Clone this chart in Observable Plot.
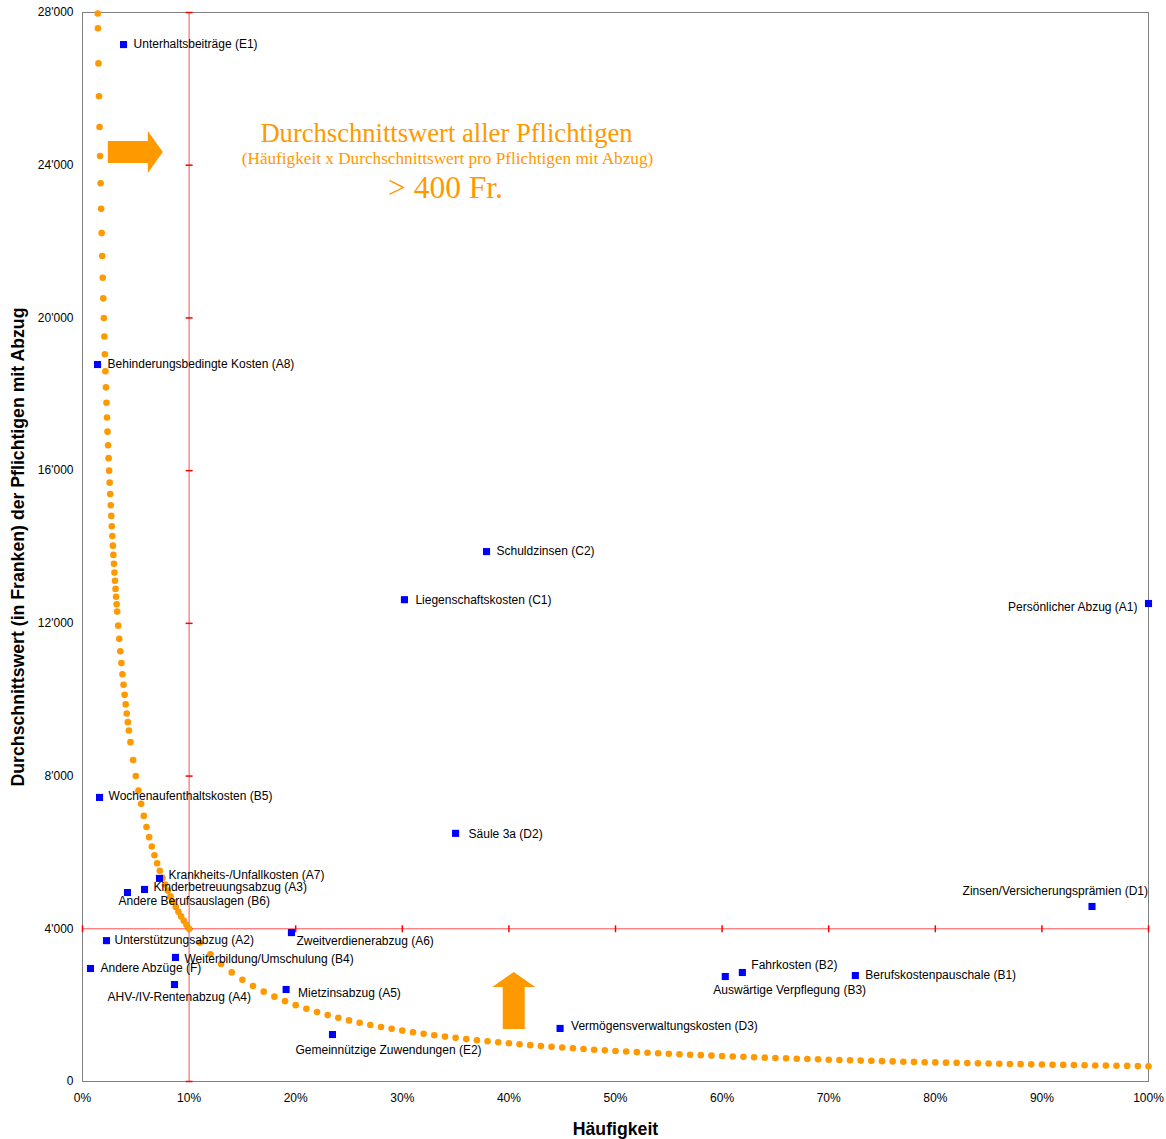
<!DOCTYPE html>
<html><head><meta charset="utf-8">
<script src="https://cdn.jsdelivr.net/npm/d3@7"></script>
<script src="https://cdn.jsdelivr.net/npm/@observablehq/plot@0.6"></script>
<style>body{margin:0;background:#fff} #chart{width:1166px;height:1139px}</style>
</head><body><div id="chart"></div>
<script>
// ---- Data ----
const labels = [
  "Unterhaltsbeiträge (E1)", "Behinderungsbedingte Kosten (A8)", "Wochenaufenthaltskosten (B5)",
  "Krankheits-/Unfallkosten (A7)", "Kinderbetreuungsabzug (A3)", "Andere Berufsauslagen (B6)",
  "Unterstützungsabzug (A2)", "Weiterbildung/Umschulung (B4)", "Andere Abzüge (F)",
  "AHV-/IV-Rentenabzug (A4)", "Zweitverdienerabzug (A6)", "Mietzinsabzug (A5)",
  "Gemeinnützige Zuwendungen (E2)", "Vermögensverwaltungskosten (D3)", "Schuldzinsen (C2)",
  "Liegenschaftskosten (C1)", "Säule 3a (D2)", "Fahrkosten (B2)", "Auswärtige Verpflegung (B3)",
  "Berufskostenpauschale (B1)", "Persönlicher Abzug (A1)", "Zinsen/Versicherungsprämien (D1)"
];
const codes = ["E1","A8","B5","A7","A3","B6","A2","B4","F","A4","A6","A5","E2","D3","C2","C1","D2","B2","B3","B1","A1","D1"];
const haeufigkeit = [3.85, 1.41, 1.6, 7.22, 5.82, 4.22, 2.25, 8.72, 0.75, 8.63, 19.6, 19.1, 23.45, 44.8, 37.9, 30.2, 35.0, 61.9, 60.3, 72.5, 100, 94.7];
const durchschnitt = [27160, 18780, 7440, 5320, 5030, 4950, 3690, 3250, 2960, 2540, 3900, 2410, 1230, 1390, 13880, 12620, 6500, 2855, 2750, 2775, 12520, 4585];

// iso-line: Häufigkeit x Durchschnittswert = 400 Fr.
const curveX = [1.43,1.45,1.50,1.55,1.60,1.65,1.70,1.75,1.80,1.85,1.90,1.95,2.00,2.05,2.10,2.15,2.20,2.25,2.30,2.35,2.40,2.45,2.50,2.55,2.60,2.65,2.70,2.75,2.80,2.85,2.90,2.95,3.00,3.05,3.10,3.15,3.20,3.25,
  3.35,3.45,3.55,3.65,3.75,3.85,3.95,4.05,4.15,4.25,4.35,4.50,4.75,5.00,5.25,5.50,5.75,6.00,6.25,6.50,6.75,7.00,7.25,7.50,7.75,8.00,8.25,8.50,8.75,9.00,9.25,9.50,9.75,10.00,
  11,12,13,14,15,16,17,18,19,20,21,22,23,24,25,26,27,28,29,30,31,32,33,34,35,36,37,38,39,40,41,42,43,44,45,46,47,48,49,50,
  51,52,53,54,55,56,57,58,59,60,61,62,63,64,65,66,67,68,69,70,71,72,73,74,75,76,77,78,79,80,81,82,83,84,85,86,87,88,89,90,91,92,93,94,95,96,97,98,99,100];
const curveY = [27972,27586,26667,25806,25000,24242,23529,22857,22222,21622,21053,20513,20000,19512,19048,18605,18182,17778,17391,17021,16667,16327,16000,15686,15385,15094,14815,14545,14286,14035,13793,13559,13333,13115,12903,12698,12500,12308,
  11940,11594,11268,10959,10667,10390,10127,9877,9639,9412,9195,8889,8421,8000,7619,7273,6957,6667,6400,6154,5926,5714,5517,5333,5161,5000,4848,4706,4571,4444,4324,4211,4103,4000,
  3636,3333,3077,2857,2667,2500,2353,2222,2105,2000,1905,1818,1739,1667,1600,1538,1481,1429,1379,1333,1290,1250,1212,1176,1143,1111,1081,1053,1026,1000,976,952,930,909,889,870,851,833,816,800,
  784,769,755,741,727,714,702,690,678,667,656,645,635,625,615,606,597,588,580,571,563,556,548,541,533,526,519,513,506,500,494,488,482,476,471,465,460,455,449,444,440,435,430,426,421,417,412,408,404,400];

const xTicks = [0,10,20,30,40,50,60,70,80,90,100];
const yTicks = [0,4000,8000,12000,16000,20000,24000,28000];
const xTitle = "Häufigkeit";
const yTitle = "Durchschnittswert (in Franken) der Pflichtigen mit Abzug";
const noteLines = ["Durchschnittswert aller Pflichtigen", "(Häufigkeit x Durchschnittswert pro Pflichtigen mit Abzug)", "> 400 Fr."];
const thresholdX = 10, thresholdY = 4000;

// ---- Label placement (pixel offsets from marker) ----
const placement = {
  E1:[10,0,"start"], A8:[10,0,"start"], B5:[9,-1,"start"], A7:[9,-3,"start"], A3:[9,-2,"start"],
  B6:[-9,9,"start"], A2:[8,0,"start"], B4:[9,2,"start"], F:[10,0,"start"], A4:[-67,13,"start"],
  A6:[5,9,"start"], A5:[12,4,"start"], E2:[-37,16,"start"], D3:[11,-2,"start"], C2:[10,0,"start"],
  C1:[11,0,"start"], D2:[13,1,"start"], B2:[9,-7,"start"], B3:[-12,14,"start"], B1:[10,0,"start"],
  A1:[-11,4,"end"], D1:[56,-15,"end"]
};

const points = labels.map((l, i) => ({label: l, code: codes[i], x: haeufigkeit[i], y: durchschnitt[i]}));
const curve = curveX.map((x, i) => ({x, y: curveY[i]}));

const orange = "#FF9900";
const blue = "#0000FF";
const redLine = "#FF5050";
const serif = "'Liberation Serif', 'Times New Roman', serif";

const hTick = {draw(ctx, size){ const r = Math.sqrt(size / Math.PI); ctx.moveTo(-r, 0); ctx.lineTo(r, 0); }};
const vTick = {draw(ctx, size){ const r = Math.sqrt(size / Math.PI); ctx.moveTo(0, -r); ctx.lineTo(0, r); }};

function arrows(index, scales) {
  const g = d3.create("svg:g").attr("fill", orange);
  const rx = scales.x(5.0), ry = scales.y(24330);
  g.append("path").attr("d", `M${rx-27.5},${ry-11}H${rx+12.5}V${ry-21}L${rx+27.5},${ry}L${rx+12.5},${ry+21}V${ry+11}H${rx-27.5}Z`);
  const ux = scales.x(40.5), uy = scales.y(2108);
  g.append("path").attr("d", `M${ux-11},${uy+28.5}V${uy-13.5}H${ux-21.5}L${ux},${uy-28.5}L${ux+21.5},${uy-13.5}H${ux+11}V${uy+28.5}Z`);
  return g.node();
}

const yFmt = d => d3.format(",")(d).replace(/,/g, "'");

const labelMarks = points.map(p => {
  const [dx, dy, anchor] = placement[p.code];
  return Plot.text([p], {x: "x", y: "y", text: "label", dx, dy, textAnchor: anchor, lineAnchor: "middle", fontSize: 12, fill: "#000"});
});

const chart = Plot.plot({
  width: 1166, height: 1139,
  marginLeft: 82, marginRight: 18, marginTop: 12, marginBottom: 58,
  x: {domain: [0, 100]},
  y: {domain: [0, 28000]},
  style: {fontFamily: "'Liberation Sans', Arial, sans-serif", fontSize: "12px", background: "#fff", overflow: "visible"},
  marks: [
    Plot.frame({stroke: "#808080"}),
    Plot.axisX({ticks: xTicks, tickSize: 0, tickPadding: 12, tickFormat: d => d + "%", label: null, fontSize: 12, fill: "#000"}),
    Plot.axisY({ticks: yTicks, tickSize: 0, tickPadding: 9, tickFormat: yFmt, label: null, fontSize: 12, fill: "#000"}),
    Plot.ruleX([thresholdX], {stroke: redLine, strokeWidth: 1}),
    Plot.ruleY([thresholdY], {stroke: redLine, strokeWidth: 1}),
    Plot.dot(yTicks, {x: () => thresholdX, y: d => d, symbol: hTick, r: 3.5, stroke: "#FF0000", fill: "none"}),
    Plot.dot(xTicks, {x: d => d, y: () => thresholdY, symbol: vTick, r: 3.5, stroke: "#FF0000", fill: "none"}),
    arrows,
    Plot.text([noteLines[0]], {text: d => d, frameAnchor: "top", textAnchor: "middle", dx: -169, dy: 121, fontFamily: serif, fontSize: 26.6, fill: orange, lineAnchor: "middle"}),
    Plot.text([noteLines[1]], {text: d => d, frameAnchor: "top", textAnchor: "middle", dx: -168, dy: 146, fontFamily: serif, fontSize: 17.2, fill: orange, lineAnchor: "middle"}),
    Plot.text([noteLines[2]], {text: d => d, frameAnchor: "top", textAnchor: "middle", dx: -170, dy: 175, fontFamily: serif, fontSize: 31.5, fill: orange, lineAnchor: "middle"}),
    Plot.dot(curve, {x: "x", y: "y", r: 3.3, fill: orange}),
    Plot.dot(points, {x: "x", y: "y", symbol: "square", r: 4, fill: blue}),
    ...labelMarks,
    Plot.text([xTitle], {text: d => d, frameAnchor: "bottom", textAnchor: "middle", dy: 48, fontWeight: "bold", fontSize: 17.7, fill: "#000", lineAnchor: "middle"}),
    Plot.text([yTitle], {text: d => d, frameAnchor: "left", textAnchor: "middle", dx: -64, rotate: -90, fontWeight: "bold", fontSize: 17.7, fill: "#000", lineAnchor: "middle"})
  ]
});
document.getElementById("chart").appendChild(chart);
</script>
</body></html>
